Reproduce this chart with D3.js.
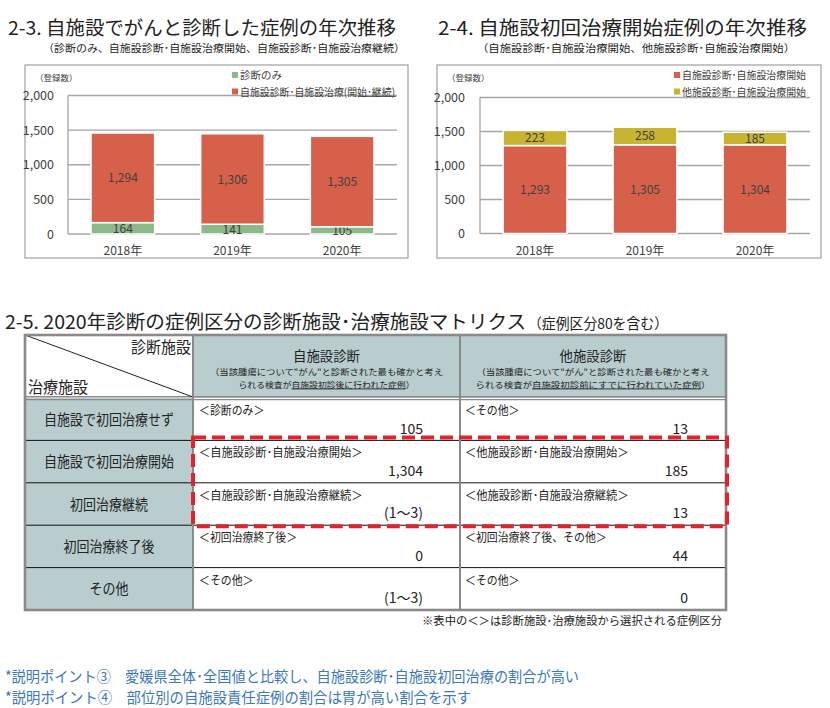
<!DOCTYPE html>
<html><head><meta charset="utf-8">
<script src="https://cdn.jsdelivr.net/npm/d3@7/dist/d3.min.js"></script>
<style>
html,body{margin:0;padding:0;background:#fff;}
svg{display:block;font-family:"Noto Sans CJK JP","Noto Sans",sans-serif;}
</style></head>
<body>
<svg id="c" width="830" height="708"></svg>
<script>
// ---- data ----
const years = ["2018年", "2019年", "2020年"];
const diagOnly = [164, 141, 105];
const selfDiagSelfTreat = [1294, 1306, 1305];
const selfDiagStart = [1293, 1305, 1304];
const otherDiagStart = [223, 258, 185];
const yTicks = [0, 500, 1000, 1500, 2000];

const rowHeads = ["自施設で初回治療せず", "自施設で初回治療開始", "初回治療継続", "初回治療終了後", "その他"];
const selfLabels = ["＜診断のみ＞", "＜自施設診断･自施設治療開始＞", "＜自施設診断･自施設治療継続＞", "＜初回治療終了後＞", "＜その他＞"];
const selfValues = ["105", "1,304", "(1～3)", "0", "(1～3)"];
const otherLabels = ["＜その他＞", "＜他施設診断･自施設治療開始＞", "＜他施設診断･自施設治療継続＞", "＜初回治療終了後、その他＞", "＜その他＞"];
const otherValues = ["13", "185", "13", "44", "0"];

const COL_GREEN = "#8db88a", COL_RED = "#d6604a", COL_YEL = "#c9b431";
const svg = d3.select("#c");

function txt(x, y, s, o) {
  o = o || {};
  const t = svg.append("text").attr("x", x).attr("y", y).text(s)
    .attr("font-size", o.size || 12).attr("fill", o.fill || "#222")
    .attr("text-anchor", o.anchor || "start");
  if (o.weight) t.attr("font-weight", o.weight);
  if (o.len) t.attr("textLength", o.len).attr("lengthAdjust", "spacingAndGlyphs");
  return t;
}

// ---- titles ----
txt(8, 35, "2-3.  自施設でがんと診断した症例の年次推移", {size: 19, len: 388});
txt(43, 51.5, "（診断のみ、自施設診断･自施設治療開始、自施設診断･自施設治療継続）", {size: 10.5, len: 362});
txt(438, 35, "2-4.  自施設初回治療開始症例の年次推移", {size: 19, len: 369});
txt(477, 51.5, "（自施設診断･自施設治療開始、他施設診断･自施設治療開始）", {size: 10.5, len: 318});

// ---- charts ----
function drawChart(o) {
  const g = svg.append("g");
  g.append("rect").attr("x", o.box[0]).attr("y", o.box[1]).attr("width", o.box[2] - o.box[0])
    .attr("height", o.box[3] - o.box[1]).attr("fill", "#fff").attr("stroke", "#a0a0a0").attr("stroke-width", 1.2);
  const x = d3.scaleBand().domain(years).range(o.xr).paddingInner(0.42).paddingOuter(0.21);
  const y = d3.scaleLinear().domain([0, 2000]).range(o.yr);
  // gridlines
  g.selectAll("line.grid").data(yTicks).join("line")
    .attr("x1", o.xr[0]).attr("x2", o.xr[1]).attr("y1", d => y(d)).attr("y2", d => y(d))
    .attr("stroke", "#a6a6a6").attr("stroke-width", 1.3);
  g.append("line").attr("x1", o.xr[0]).attr("x2", o.xr[0]).attr("y1", y(0)).attr("y2", y(2000))
    .attr("stroke", "#a6a6a6").attr("stroke-width", 1.3);
  // y axis labels
  const ax = g.append("g").attr("transform", `translate(${o.xr[0]},0)`)
    .call(d3.axisLeft(y).tickValues(yTicks).tickSize(0).tickPadding(o.tickPad).tickFormat(d3.format(",")));
  ax.select(".domain").remove();
  ax.selectAll("text").attr("font-size", 12.5).attr("fill", "#404040")
    .attr("font-family", '"Noto Sans CJK JP",sans-serif');
  g.append("text").attr("x", o.box[0] + 10).attr("y", 81).text("（登録数）")
    .attr("font-size", 8.5).attr("fill", "#404040");
  // stacked bars
  years.forEach((yr, i) => {
    let base = 0;
    o.series.forEach(s => {
      const v = s.values[i];
      g.append("rect").attr("x", x(yr)).attr("width", x.bandwidth())
        .attr("y", y(base + v)).attr("height", y(base) - y(base + v))
        .attr("fill", s.color).attr("stroke", "#fff").attr("stroke-width", 1.5);
      g.append("text").attr("x", x(yr) + x.bandwidth() / 2).attr("y", y(base + v / 2) + 4.5)
        .attr("text-anchor", "middle").attr("font-size", 12).attr("fill", "#404040")
        .text(d3.format(",")(v));
      base += v;
    });
    g.append("text").attr("x", x(yr) + x.bandwidth() / 2).attr("y", 254.5)
      .attr("text-anchor", "middle").attr("font-size", 12).attr("fill", "#404040").text(yr);
  });
  // legend
  o.legend.forEach((l, k) => {
    const ly = 75 + k * 16.5;
    g.append("rect").attr("x", o.legX).attr("y", ly - 3).attr("width", 6).attr("height", 6).attr("fill", l.color);
    const t = g.append("text").attr("x", o.legX + 8).attr("y", ly + 4).text(l.label)
      .attr("font-size", 10.5).attr("fill", "#404040");
    if (l.len) t.attr("textLength", l.len).attr("lengthAdjust", "spacingAndGlyphs");
  });
  return g;
}

const g1 = drawChart({
  box: [25, 65, 408, 258], xr: [68, 397], yr: [234, 95.5], tickPad: 14,
  series: [{values: diagOnly, color: COL_GREEN}, {values: selfDiagSelfTreat, color: COL_RED}],
  legend: [{label: "診断のみ", color: COL_GREEN}, {label: "自施設診断･自施設治療(開始･継続)", color: COL_RED, len: 155}],
  legX: 232
});
g1.append("line").attr("x1", 358).attr("x2", 396).attr("y1", 96.5).attr("y2", 96.5).attr("stroke", "#404040").attr("stroke-width", 0.8);

drawChart({
  box: [437, 65, 821, 258], xr: [480, 810], yr: [233.5, 97.5], tickPad: 15,
  series: [{values: selfDiagStart, color: COL_RED}, {values: otherDiagStart, color: COL_YEL}],
  legend: [{label: "自施設診断･自施設治療開始", color: COL_RED, len: 124}, {label: "他施設診断･自施設治療開始", color: COL_YEL, len: 124}],
  legX: 674
});

// ---- matrix table ----
txt(5, 329, "2-5.  2020年診断の症例区分の診断施設･治療施設マトリクス", {size: 19, len: 521});
txt(528, 329, "（症例区分80を含む）", {size: 14.5, len: 140});

const colX = [25, 193, 460, 726];
const rowY = d3.scaleBand().domain(d3.range(rowHeads.length)).range([398, 610]);
const HEAD_BG = "#b9cdce";
const T = svg.append("g");
// backgrounds
T.append("rect").attr("x", colX[0]).attr("y", 335).attr("width", colX[1] - colX[0]).attr("height", 63).attr("fill", "#fff");
T.append("rect").attr("x", colX[1]).attr("y", 335).attr("width", colX[3] - colX[1]).attr("height", 63).attr("fill", HEAD_BG);
T.append("rect").attr("x", colX[0]).attr("y", 398).attr("width", colX[1] - colX[0]).attr("height", 212).attr("fill", HEAD_BG);
// row lines
rowHeads.forEach((h, i) => {
  if (i > 0) T.append("line").attr("x1", colX[0]).attr("x2", colX[3]).attr("y1", rowY(i)).attr("y2", rowY(i))
    .attr("stroke", "#111").attr("stroke-width", 1);
});
// header double line
T.append("line").attr("x1", colX[0]).attr("x2", colX[3]).attr("y1", 396.8).attr("y2", 396.8).attr("stroke", "#8a8a8a").attr("stroke-width", 1.6);
T.append("line").attr("x1", colX[0]).attr("x2", colX[3]).attr("y1", 399.6).attr("y2", 399.6).attr("stroke", "#8a8a8a").attr("stroke-width", 1.4);
// diagonal
T.append("line").attr("x1", colX[0]).attr("y1", 335).attr("x2", colX[1]).attr("y2", 397).attr("stroke", "#222").attr("stroke-width", 1);
// vertical dividers
[colX[1], colX[2]].forEach(cx => T.append("line").attr("x1", cx).attr("x2", cx).attr("y1", 335).attr("y2", 610)
  .attr("stroke", "#8a8a8a").attr("stroke-width", 2));
// outer border
T.append("rect").attr("x", colX[0]).attr("y", 335).attr("width", colX[3] - colX[0]).attr("height", 275)
  .attr("fill", "none").attr("stroke", "#8a8a8a").attr("stroke-width", 2.6);

// header texts
txt(191, 353, "診断施設", {size: 16, anchor: "end", len: 60});
txt(28, 393, "治療施設", {size: 16, len: 60});
const heads = [
  {title: "自施設診断", l1: "（当該腫瘍について\"がん\"と診断された最も確かと考え", pre: "られる検査が", u: "自施設初診後に行われた症例", post: "）"},
  {title: "他施設診断", l1: "（当該腫瘍について\"がん\"と診断された最も確かと考え", pre: "られる検査が", u: "自施設初診前にすでに行われていた症例", post: "）"}
];
heads.forEach((h, k) => {
  const cx = (colX[k + 1] + colX[k + 2]) / 2;
  txt(cx, 360.5, h.title, {size: 13.5, anchor: "middle", len: 67});
  txt(cx, 375, h.l1, {size: 8.5, anchor: "middle", len: 233});
  const t = T.append("text").attr("x", cx).attr("y", 387.5).attr("text-anchor", "middle")
    .attr("font-size", 8.5).attr("fill", "#222");
  t.append("tspan").text(h.pre);
  t.append("tspan").attr("text-decoration", "underline").text(h.u);
  t.append("tspan").text(h.post);
  t.attr("textLength", k === 0 ? 176 : 235).attr("lengthAdjust", "spacingAndGlyphs");
});

// body texts
rowHeads.forEach((h, i) => {
  const top = rowY(i), mid = top + rowY.bandwidth() / 2;
  txt((colX[0] + colX[1]) / 2, mid + 5.5, h, {size: 14.5, anchor: "middle", len: h.length * 13});
  txt(colX[1] + 6, top + 17, selfLabels[i], {size: 12, len: selfLabels[i].length * 10.9});
  txt(423, top + 35.5, selfValues[i], {size: 14, anchor: "end"});
  txt(colX[2] + 5, top + 17, otherLabels[i], {size: 12, len: otherLabels[i].length * 10.9});
  txt(688, top + 35.5, otherValues[i], {size: 14, anchor: "end"});
});

// dashed highlight
svg.append("rect").attr("x", 193).attr("y", rowY(1) - 3).attr("width", 534).attr("height", rowY(3) - rowY(1) + 4)
  .attr("fill", "none").attr("stroke", "#e3232b").attr("stroke-width", 4).attr("stroke-dasharray", "13,6");

txt(722, 625, "※表中の＜＞は診断施設･治療施設から選択される症例区分", {size: 11, anchor: "end", len: 300});

// notes
txt(5, 682, "*説明ポイント③　愛媛県全体･全国値と比較し、自施設診断･自施設初回治療の割合が高い", {size: 15, fill: "#3a78c0", len: 574});
txt(5, 703, "*説明ポイント④　部位別の自施設責任症例の割合は胃が高い割合を示す", {size: 15, fill: "#3a78c0", len: 466});
</script>
</body></html>
